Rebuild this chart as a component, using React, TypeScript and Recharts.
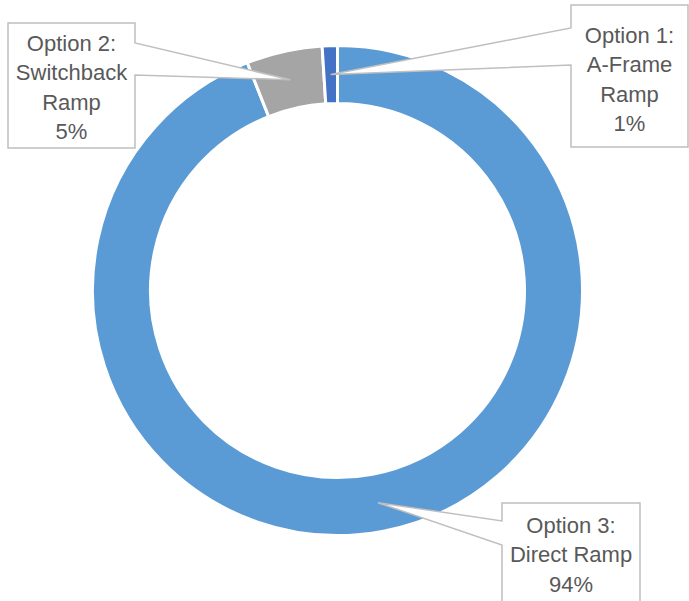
import React from "react";
import { PieChart, Pie, Cell } from "recharts";

// slices in clockwise order from 12 o'clock
const categories = ["Option 3:\nDirect Ramp", "Option 2:\nSwitchback\nRamp", "Option 1:\nA-Frame\nRamp"];
const shares = [94, 5, 1];
const colors = ["#5B9BD5", "#A5A5A5", "#4472C4"];

// callout boxes (layout only): box rect, pointer side and pointer base on that edge
const callouts = [
  { x: 502, y: 503, w: 138, h: 110, side: "left", b1: 521, b2: 545, top: 525 },
  { x: 8, y: 23, w: 127, h: 125, side: "right", b1: 43, b2: 75, top: 43 },
  { x: 571, y: 5, w: 117, h: 142, side: "left", b1: 28, b2: 65, top: 35 },
];

const data = categories.map((name, i) => ({ name, value: shares[i] }));

const RAD = Math.PI / 180;
const LINE = 29.5;

function Callout(props: any) {
  const { cx, cy, midAngle, innerRadius, outerRadius, index, value, name } = props;
  const c = callouts[index];
  const r = (innerRadius + outerRadius) / 2;
  const ax = cx + r * Math.cos(-midAngle * RAD);
  const ay = cy + r * Math.sin(-midAngle * RAD);
  const { x, y, w, h, b1, b2 } = c;
  const d =
    c.side === "left"
      ? `M${x},${y} L${x + w},${y} L${x + w},${y + h} L${x},${y + h} L${x},${b2} L${ax},${ay} L${x},${b1} Z`
      : `M${x},${y} L${x + w},${y} L${x + w},${b1} L${ax},${ay} L${x + w},${b2} L${x + w},${y + h} L${x},${y + h} Z`;
  const lines = [...String(name).split("\n"), `${value}%`];
  return (
    <g>
      <path d={d} fill="#FFFFFF" stroke="#BFBFBF" strokeWidth={1.5} strokeLinejoin="miter" />
      {lines.map((t, i) => (
        <text
          key={i}
          x={x + w / 2}
          y={c.top + i * LINE}
          textAnchor="middle"
          dominantBaseline="central"
          fill="#595959"
          fontSize={22}
          fontFamily="'Liberation Sans', Arial, sans-serif"
        >
          {t}
        </text>
      ))}
    </g>
  );
}

export default function App() {
  return (
    <div style={{ position: "absolute", left: 0, top: 0, background: "#fff" }}>
      <PieChart width={689} height={601} margin={{ top: 0, right: 0, bottom: 0, left: 0 }}>
        <Pie
          data={data}
          dataKey="value"
          nameKey="name"
          cx={337.5}
          cy={290.5}
          innerRadius={187}
          outerRadius={245}
          startAngle={90}
          endAngle={-270}
          stroke="#FFFFFF"
          strokeWidth={3}
          label={Callout}
          labelLine={false}
          isAnimationActive={false}
        >
          {data.map((_, i) => (
            <Cell key={i} fill={colors[i]} />
          ))}
        </Pie>
      </PieChart>
    </div>
  );
}
